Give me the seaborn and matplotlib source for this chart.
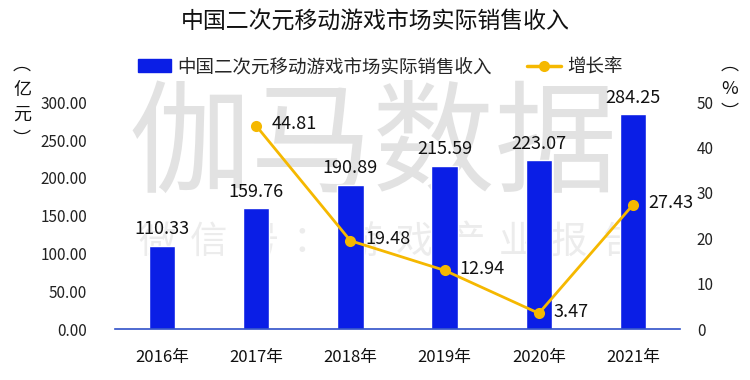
import matplotlib
matplotlib.use("Agg")
import matplotlib.pyplot as plt
import seaborn as sns
import pandas as pd
import numpy as np

years = ["2016年", "2017年", "2018年", "2019年", "2020年", "2021年"]
revenue = [110.33, 159.76, 190.89, 215.59, 223.07, 284.25]
growth = [None, 44.81, 19.48, 12.94, 3.47, 27.43]
left_ticks = [0, 50, 100, 150, 200, 250, 300]
right_ticks = [0, 10, 20, 30, 40, 50]

sns.set_theme(style="white")
plt.rcParams['font.family'] = ['Noto Sans CJK SC', 'DejaVu Sans']

BLUE = "#0A1EE6"
GOLD = "#F5B800"

df = pd.DataFrame({"year": years, "revenue": revenue, "growth": growth})

fig = plt.figure(figsize=(7.5, 3.8), dpi=100)
ax = fig.add_axes([0.153, 0.134, 0.754, 0.597])

# watermark (behind bars)
ax.text(0.497, 0.61, "伽马数据", fontsize=88, color="#e2e2e2", ha="center", va="center",
        transform=fig.transFigure, zorder=0.5)
wm2 = "微信号：游戏产业报告"
for k, ch in enumerate(wm2):
    xpx = 157 + k * 51.5
    ax.text(xpx / 750, 1 - 242 / 380, ch, fontsize=27, color="#ececec", ha="center", va="center",
            transform=fig.transFigure, zorder=0.5)

sns.barplot(data=df, x="year", y="revenue", color=BLUE, saturation=1, width=0.28, ax=ax, zorder=2)
ax.set_ylim(0, 300)
ax.set_xlim(-0.5, 5.5)
ax.set_yticks(left_ticks)
ax.set_yticklabels([f"{v:.2f}" for v in left_ticks], fontsize=11, color="#222222")
ax.set_xlabel("")
ax.set_ylabel("")
ax.tick_params(axis="x", labelsize=12, pad=14, length=0, colors="#111111")
ax.tick_params(axis="y", length=0, pad=20)
for s in ["top", "right", "left"]:
    ax.spines[s].set_visible(False)
ax.spines["bottom"].set_color("#3050c8")
ax.spines["bottom"].set_linewidth(1.2)
ax.patch.set_alpha(0)

for i, v in enumerate(revenue):
    ax.text(i, v + 10, f"{v:.2f}", ha="center", va="bottom", fontsize=13, color="#111111", zorder=5)

ax2 = ax.twinx()
ax2.set_ylim(0, 50)
gdf = df.dropna(subset=["growth"]).copy()
gdf["pos"] = [years.index(y) for y in gdf["year"]]
sns.lineplot(x=gdf["pos"], y=gdf["growth"], color=GOLD, linewidth=2, marker="o", markersize=8,
             markeredgewidth=0, ax=ax2, zorder=4)
ax2.set_xlim(-0.5, 5.5)
ax2.set_yticks(right_ticks)
ax2.set_yticklabels([str(v) for v in right_ticks], fontsize=11, color="#222222")
ax2.tick_params(axis="y", length=0, pad=12)
ax2.set_ylabel("")
ax2.set_xlabel("")
for s in ["top", "right", "left", "bottom"]:
    ax2.spines[s].set_visible(False)

for p, g in zip(gdf["pos"], gdf["growth"]):
    ax2.text(p + 0.16, g + 0.3, f"{g:.2f}", ha="left", va="center", fontsize=13, color="#111111", zorder=5)

# title
fig.text(0.5, 0.942, "中国二次元移动游戏市场实际销售收入", ha="center", va="center", fontsize=16.5, color="#111111")

# legend
from matplotlib.patches import Patch
from matplotlib.lines import Line2D
handles = [Patch(facecolor=BLUE, edgecolor=BLUE),
           Line2D([0], [0], color=GOLD, linewidth=2.5, marker="o", markersize=8, markeredgewidth=0)]
fig.legend(handles, ["中国二次元移动游戏市场实际销售收入", "增长率"], loc="center", bbox_to_anchor=(0.507, 0.823),
           ncol=2, frameon=False, fontsize=13.3, handlelength=1.8, handleheight=0.7, columnspacing=1.9,
           handletextpad=0.35)

# axis unit labels (stacked vertically)
left_unit = ["︵", "亿", "元", "︶"]
for k, ch in enumerate(left_unit):
    fig.text(22 / 750, 1 - (65 + k * 25) / 380, ch, ha="center", va="center", fontsize=13, color="#111111")
right_unit = ["︵", "%", "︶"]
for k, ch in enumerate(right_unit):
    fig.text(730 / 750, 1 - (65 + k * 24) / 380, ch, ha="center", va="center", fontsize=13, color="#111111")

fig.savefig("out.png", dpi=100)
